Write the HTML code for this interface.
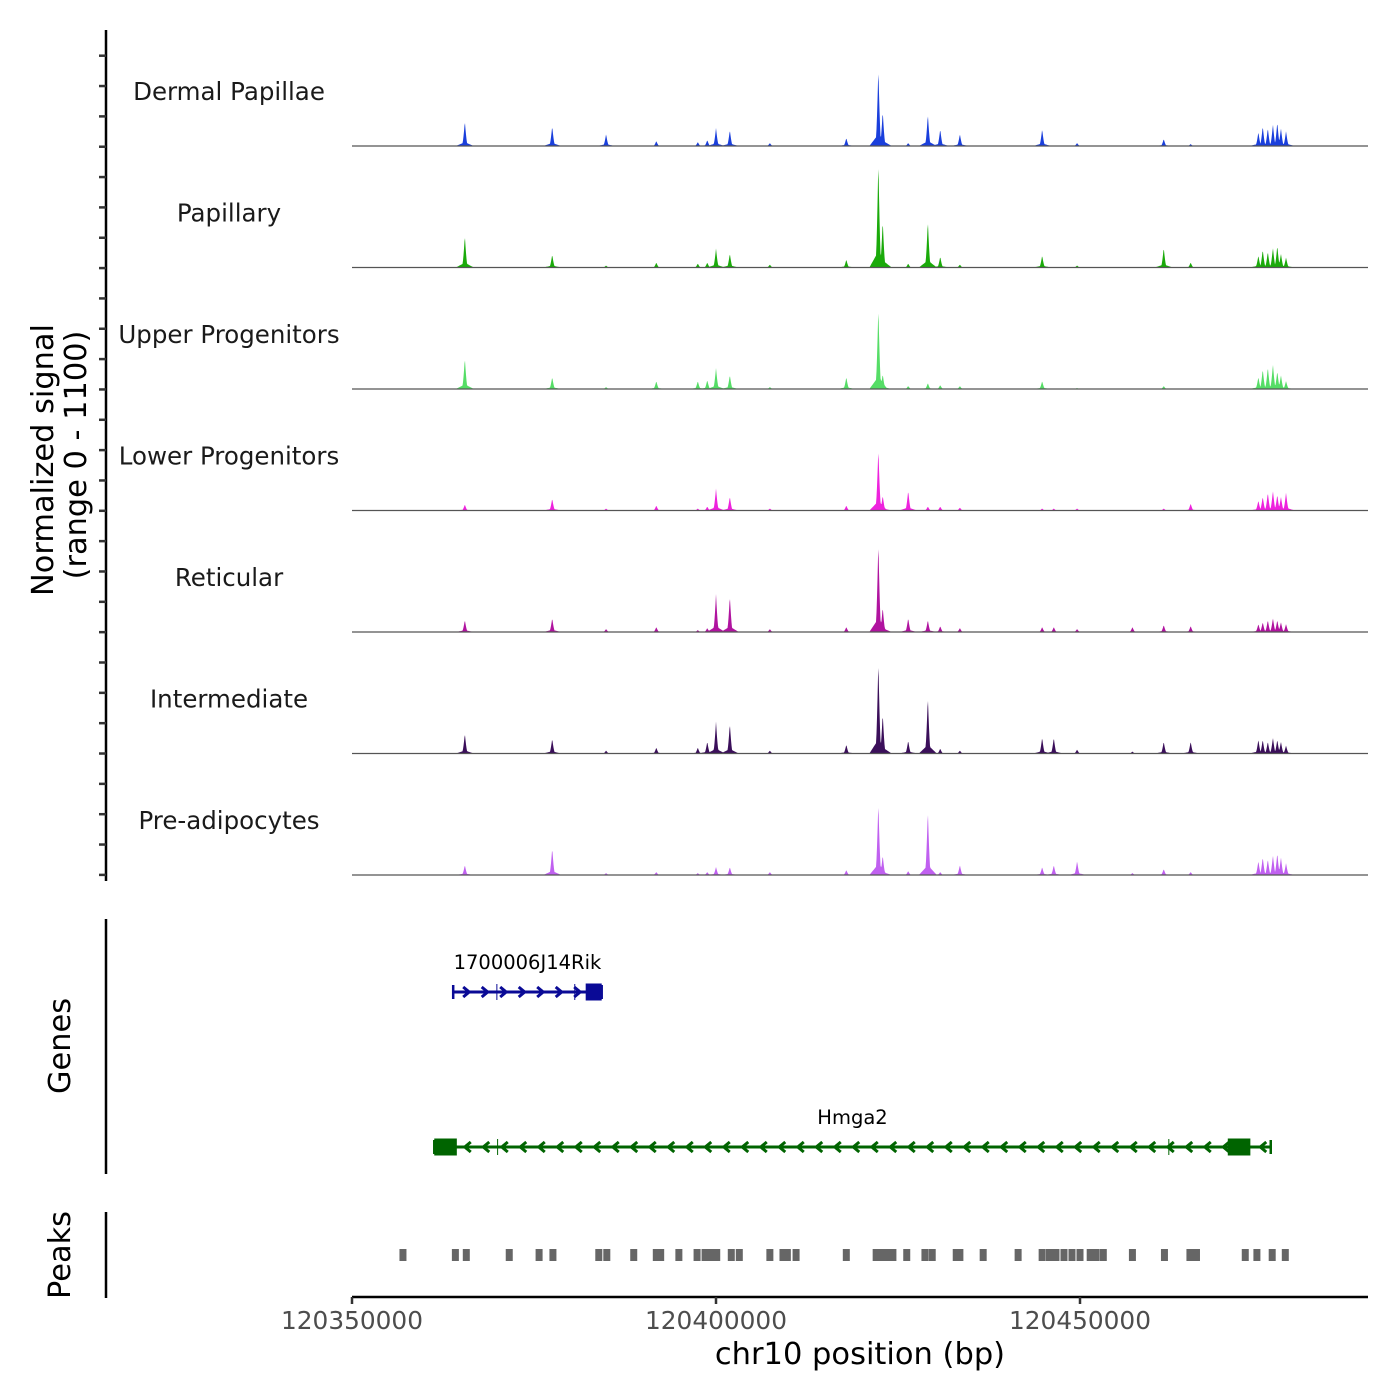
<!DOCTYPE html>
<html><head><meta charset="utf-8"><style>
html,body{margin:0;padding:0;background:#fff;}
svg{display:block;font-family:"DejaVu Sans","Liberation Sans",sans-serif;}
</style></head><body>
<svg id="chart" width="1400" height="1400" viewBox="0 0 1400 1400" xmlns="http://www.w3.org/2000/svg">
<g id="tracks"></g>
<g id="axes"></g>
<g id="genes"></g>
<g id="peaks"></g>
</svg>
<script>
// ---- data ----
const regionStart = 120350000;
const regionEnd = 120489560;
const xTicks = [120350000, 120400000, 120450000];
const signalMax = 1100;
const trackNames = ["Dermal Papillae","Papillary","Upper Progenitors","Lower Progenitors","Reticular","Intermediate","Pre-adipocytes"];
const trackColors = ["#1a3fdc","#1aaa0a","#55dd66","#ee22dd","#b0139f","#3b0f5a","#c060f0"];
// peak summit positions in kb offset from regionStart
const peakPosKb = [15.5,27.5,34.9,41.8,47.5,48.8,50.0,51.9,57.4,67.9,72.3,72.9,76.4,79.1,80.8,83.5,94.8,96.4,99.6,107.2,111.5,115.2,124.5,125.1,125.8,126.5,127.1,127.6,128.3];
const sigDermal   = [250,200,120,50,40,60,180,160,30,80,780,350,30,320,170,120,170,0,30,0,70,20,140,200,180,220,240,180,150];
const sigPapillary= [320,130,20,50,40,50,190,140,30,80,1070,470,40,470,110,30,120,0,20,0,200,50,120,180,160,200,220,140,100];
const sigUpper    = [310,120,20,80,80,90,210,140,20,120,820,150,30,60,40,30,80,0,10,0,30,0,120,200,220,250,180,140,80];
const sigLower    = [60,120,20,50,20,40,220,140,20,50,620,150,200,40,40,30,20,20,20,0,20,70,100,140,180,200,160,140,180];
const sigReticular= [120,140,30,50,20,40,380,360,30,50,900,250,140,120,60,40,50,50,30,50,70,60,80,100,120,140,120,100,80];
const sigInterm   = [200,150,30,60,60,120,320,300,30,90,930,400,130,570,50,30,160,160,40,20,120,120,140,140,120,160,140,120,80];
const sigPreadip  = [100,270,20,30,20,30,80,80,30,50,730,200,40,650,30,100,80,100,140,20,60,30,140,180,160,200,220,180,120];
const trackSignals = [sigDermal,sigPapillary,sigUpper,sigLower,sigReticular,sigInterm,sigPreadip];
// called peaks (kb offsets)
const peakCallsKb = [7.0,14.2,15.7,21.6,25.7,27.6,33.9,35.0,38.7,41.8,42.4,44.9,47.4,48.5,49.3,50.1,52.1,53.2,57.4,59.2,59.8,61.0,67.9,72.0,72.8,73.4,74.3,76.2,78.7,79.7,83.0,83.5,86.7,91.5,94.8,95.8,96.7,97.8,98.9,100.0,101.4,102.2,103.2,107.2,111.6,115.1,116.0,122.7,124.3,126.4,128.2];
// genes (kb offsets)
const geneNames = ["1700006J14Rik","Hmga2"];
const geneStartKb = [13.9, 11.3];
const geneEndKb = [34.3, 126.2];
const geneStrand = ["+","-"];
const geneExonsKb = [[[32.1,34.3]],[[11.3,14.4],[120.3,123.4]]];
const geneIntronMarksKb = [[19.9,30.6],[20.0,112.2]];
const geneColors = ["#0a0a96","#006400"];

// ---- scales ----
const X0 = 352, X1 = 1368;
const xs = bp => X0 + (bp - regionStart) / (regionEnd - regionStart) * (X1 - X0);
const xk = kb => xs(regionStart + kb * 1000);
const baselines = [146,267.5,389,510.5,632,753.5,875];
const trackH = 110;
const ys = (v, b) => b - v / signalMax * trackH;
const NS = "http://www.w3.org/2000/svg";
function mk(tag, attrs, parent){const e=document.createElementNS(NS,tag);for(const k in attrs)e.setAttribute(k,attrs[k]);parent.appendChild(e);return e;}

// ---- tracks ----
const tg = document.getElementById('tracks');
trackNames.forEach((name, ti) => {
  const b = baselines[ti];
  const g = mk('g', {}, tg);
  
  
  const lab = mk('text', {x:229, y:b-46, 'text-anchor':'middle', 'font-size':24.5, fill:'#1a1a1a'}, g);
  lab.textContent = name;
  
  
  const sig = trackSignals[ti];
  let d = 'M' + X0 + ',' + b;
  for (let px = X0; px <= X1; px += 0.5) {
    let v = 0;
    peakPosKb.forEach((kb, i) => {
      const dx = Math.abs(px - xk(kb));
      const s = sig[i];
      let c = 0;
      if (dx < 3) c = s * Math.pow(1 - dx / 3, 1.6);
      if (dx < 9) c = Math.max(c, s * 0.15 * (1 - dx / 9));
      v = Math.max(v, c);
    });
    d += ' L' + px.toFixed(1) + ',' + ys(v, b).toFixed(2);
  }
  d += ' L' + X1 + ',' + b + ' Z';
  const p = mk('path', {d:d, fill:trackColors[ti], stroke:'none'}, g);
  
  
  const bl = mk('line', {x1:X0, x2:X1, y1:b, y2:b, stroke:'#555', 'stroke-width':1.2}, g);
  
  
});

// ---- axes ----
const ag = document.getElementById('axes');
let a = mk('line', {x1:106,x2:106,y1:30,y2:881,stroke:'#000','stroke-width':2.5}, ag);
 
for (let i = 0; i < 28; i++) {
  const y = 55.7 + i * 30.34;
  const t = mk('line', {x1:99,x2:106,y1:y,y2:y,stroke:'#333','stroke-width':2.5}, ag);
   
}
a = mk('line', {x1:106,x2:106,y1:919,y2:1174,stroke:'#000','stroke-width':2.5}, ag);
 
a = mk('line', {x1:106,x2:106,y1:1212,y2:1298,stroke:'#000','stroke-width':2.5}, ag);
 
a = mk('line', {x1:X0,x2:X1,y1:1297,y2:1297,stroke:'#000','stroke-width':2.5}, ag);
 
xTicks.forEach(v => {
  const x = xs(v);
  const t = mk('line', {x1:x,x2:x,y1:1297,y2:1304,stroke:'#333','stroke-width':2.5}, ag);
   
  const l = mk('text', {x:x,y:1329,'text-anchor':'middle','font-size':24.8,fill:'#4d4d4d'}, ag);
  l.textContent = v;
   
});
let tt = mk('text', {x:860,y:1364,'text-anchor':'middle','font-size':30.5,fill:'#000'}, ag);
tt.textContent = 'chr10 position (bp)';
 
tt = mk('text', {transform:'translate(53,460) rotate(-90)','text-anchor':'middle','font-size':30.4,fill:'#000'}, ag);
tt.textContent = 'Normalized signal';
 
tt = mk('text', {transform:'translate(86,455) rotate(-90)','text-anchor':'middle','font-size':30.4,fill:'#000'}, ag);
tt.textContent = '(range 0 - 1100)';
 
tt = mk('text', {transform:'translate(70,1046) rotate(-90)','text-anchor':'middle','font-size':30.4,fill:'#000'}, ag);
tt.textContent = 'Genes';
 
tt = mk('text', {transform:'translate(70,1255) rotate(-90)','text-anchor':'middle','font-size':30.4,fill:'#000'}, ag);
tt.textContent = 'Peaks';
 

// ---- genes ----
const gg = document.getElementById('genes');
const geneY = [992, 1147];
geneNames.forEach((name, gi) => {
  const g = mk('g', {}, gg);
  
  
  const c = geneColors[gi], y = geneY[gi];
  const xa = xk(geneStartKb[gi]), xb = xk(geneEndKb[gi]);
  mk('line', {x1:xa,x2:xb,y1:y,y2:y,stroke:c,'stroke-width':3}, g);
  mk('line', {x1:xa,x2:xa,y1:y-7,y2:y+7,stroke:c,'stroke-width':2.5}, g);
  mk('line', {x1:xb,x2:xb,y1:y-7,y2:y+7,stroke:c,'stroke-width':2.5}, g);
  geneIntronMarksKb[gi].forEach(kb => mk('line', {x1:xk(kb),x2:xk(kb),y1:y-8,y2:y+8,stroke:c,'stroke-width':1}, g));
  const step = 18.5, dir = geneStrand[gi] === '+' ? 1 : -1;
  for (let x = xa + 14; x < xb - 6; x += step) {
    const ax = x;
    mk('polyline', {points:`${ax-4*dir},${y-5} ${ax+2*dir},${y} ${ax-4*dir},${y+5}`,fill:'none',stroke:c,'stroke-width':3}, g);
  }
  geneExonsKb[gi].forEach(ex => {
    const r = mk('rect', {x:xk(ex[0]),y:y-8.5,width:xk(ex[1])-xk(ex[0]),height:17,fill:c}, g);
     
  });
  const lab = mk('text', {x:(xa+xb)/2,y:y-23,'text-anchor':'middle','font-size':19.5,fill:'#000'}, g);
  lab.textContent = name;
   
});

// ---- peaks ----
const pg = document.getElementById('peaks');
peakCallsKb.forEach(kb => {
  const x = xk(kb);
  const r = mk('rect', {x:x-3.5,y:1249,width:7,height:12,fill:'#666'}, pg);
  
  
});
</script>
</body></html>
